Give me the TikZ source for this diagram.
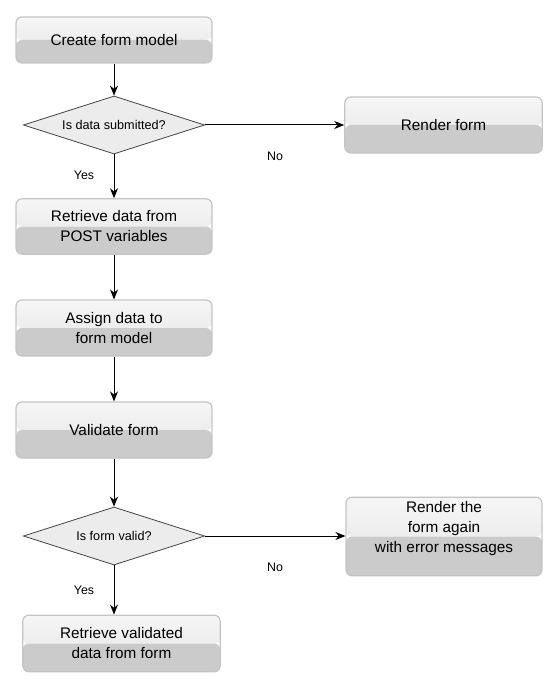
\documentclass[tikz,border=0pt]{standalone}
\usepackage{fontspec}
\setmainfont{Liberation Sans}
\usetikzlibrary{shapes.geometric,arrows.meta}
\definecolor{boxtop}{HTML}{F6F6F6}
\definecolor{boxmid}{HTML}{E4E4E4}
\definecolor{boxbot}{HTML}{CBCBCB}
\definecolor{boxborder}{HTML}{C4C4C4}
\definecolor{dfill}{HTML}{ECECEC}
\definecolor{dborder}{HTML}{444444}
\tikzset{
  procbox/.style={rectangle, rounded corners=4.5pt, draw=boxborder, line width=0.9pt,
    minimum width=147pt, align=center, inner sep=0pt,
    font=\fontsize{11.5}{15}\selectfont,
    path picture={
      \shade[top color=boxtop, bottom color=boxmid]
        (path picture bounding box.north west) rectangle (path picture bounding box.east);
      \fill[boxbot] (path picture bounding box.west) rectangle (path picture bounding box.south east);
    }},
  decision/.style={diamond, draw=dborder, fill=dfill, line width=0.6pt, inner sep=0pt,
    minimum width=136pt, minimum height=43.5pt, aspect=3.12,
    font=\fontsize{9.5}{11}\selectfont},
  lbl/.style={font=\fontsize{9.3}{11}\selectfont, inner sep=0pt},
  flow/.style={-{Stealth[length=7.5pt,width=6pt]}, line width=0.75pt, black}
}
\begin{document}
\begin{tikzpicture}[x=0.75pt,y=-0.75pt]
\useasboundingbox (0,0) rectangle (558,688);
\node[procbox, minimum height=34.5pt] (b1) at (114,40) {Create form model};
\node[decision] (d1) at (114,125) {Is data submitted?};
\node[procbox, minimum height=42pt, minimum width=148pt] (r1) at (443.5,125) {Render form};
\node[procbox, minimum height=41.5pt] (b2) at (114,226.5) {Retrieve data from\\POST variables};
\node[procbox, minimum height=42pt] (b3) at (114,328) {Assign data to\\form model};
\node[procbox, minimum height=42pt] (b4) at (114,430) {Validate form};
\node[decision] (d2) at (114,536) {Is form valid?};
\node[procbox, minimum height=59pt, minimum width=147pt,
  label={[name=r2t, align=center, yshift=6pt, font=\fontsize{11.5}{15}\selectfont]center:Render the\\form again\\with error messages}] (r2) at (444,536.5) {};
\node[procbox, minimum height=42.5pt, minimum width=148pt] (b5) at (121.5,643.5) {Retrieve validated\\data from form};
\node[lbl] (no1) at (275,156) {No};
\node[lbl] (yes1) at (84,175) {Yes};
\node[lbl] (no2) at (275,567) {No};
\node[lbl] (yes2) at (84,590) {Yes};
\draw[flow] (b1) -- (d1);
\draw[flow] (d1.east) -- (r1.west);
\draw[flow] (d1) -- (b2);
\draw[flow] (b2) -- (b3);
\draw[flow] (b3) -- (b4);
\draw[flow] (b4) -- (d2);
\draw[flow] (d2.east) -- (d2.east -| r2.west);
\draw[flow] (d2.south) -- (d2.south |- b5.north);
\end{tikzpicture}
\end{document}
